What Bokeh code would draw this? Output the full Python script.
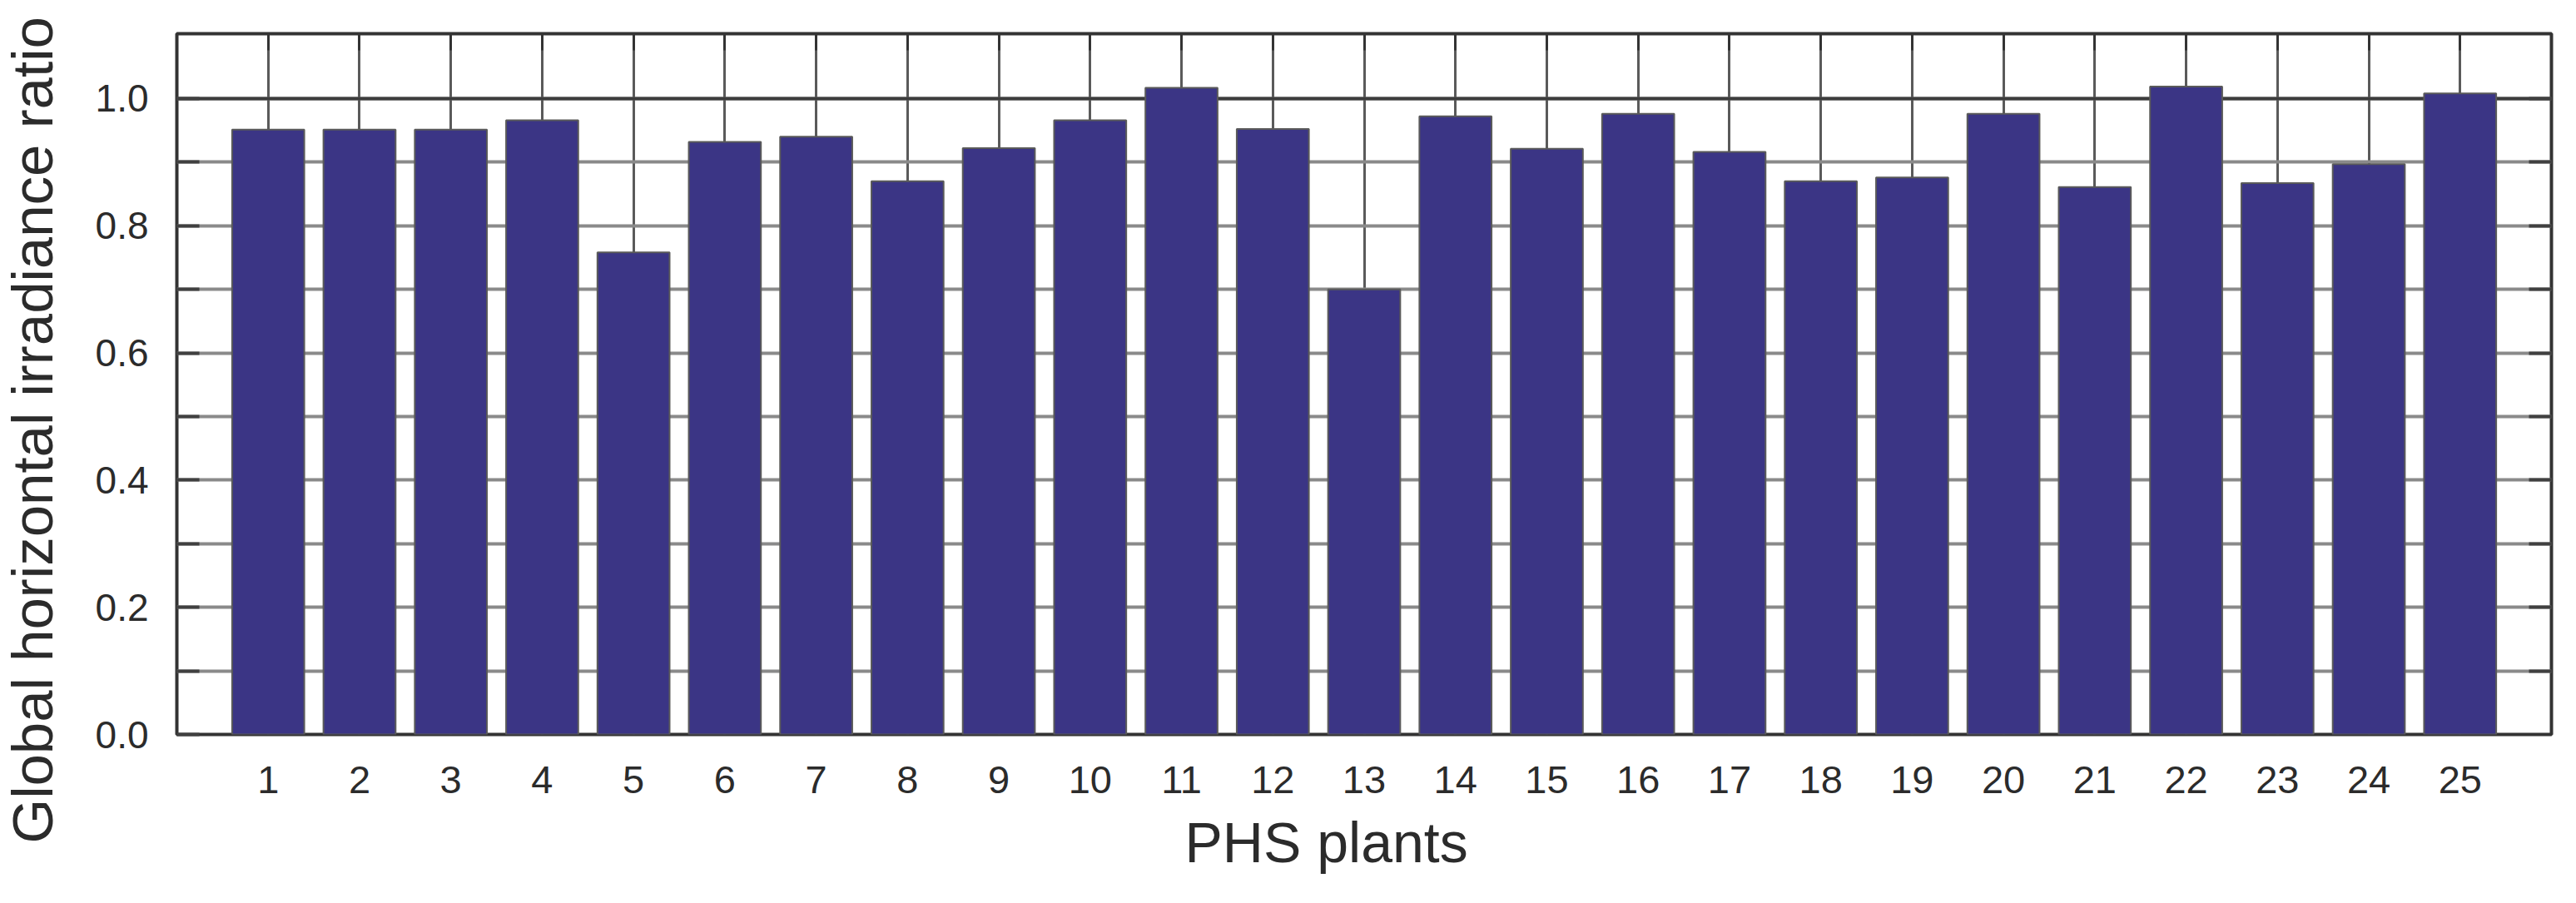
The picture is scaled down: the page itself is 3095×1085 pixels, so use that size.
from bokeh.plotting import figure
from bokeh.models import Range1d, FixedTicker, LinearAxis, Title, Span, NumeralTickFormatter, CustomJSTickFormatter
from bokeh.embed import file_html
from bokeh.resources import INLINE

# Data
plants = list(range(1, 26))
plant_labels = [str(i) for i in plants]
ghi_ratio = [0.951, 0.951, 0.951, 0.966, 0.758, 0.932, 0.940, 0.870, 0.922, 0.966,
             1.017, 0.952, 0.700, 0.972, 0.921, 0.976, 0.916, 0.870, 0.876, 0.976,
             0.861, 1.019, 0.867, 0.897, 1.008]
y_major = [0.0, 0.2, 0.4, 0.6, 0.8, 1.0]
y_minor = [0.1, 0.3, 0.5, 0.7, 0.9]
y_grid = [0.1, 0.2, 0.3, 0.4, 0.5, 0.6, 0.7, 0.8, 0.9, 1.0]
x_title = "PHS plants"
y_title = "Global horizontal irradiance ratio"

FONT = "Liberation Sans"
TXT = "#2b2b2b"
SHIFT = 36  # canvas is pulled left so the vertical title can sit close to the page edge

p = figure(width=3079 + SHIFT, height=1069, x_range=Range1d(0, 26), y_range=Range1d(0, 1.102),
           output_backend="svg", toolbar_location=None,
           min_border_left=209 + SHIFT, min_border_right=14, min_border_top=40, min_border_bottom=187)
p.margin = (0, 0, 0, -SHIFT)
p.outline_line_color = "#333333"
p.outline_line_width = 4
p.background_fill_color = "white"

# grids
p.xgrid.ticker = FixedTicker(ticks=plants)
p.xgrid.grid_line_color = "#5a5a5a"
p.xgrid.grid_line_width = 3
p.ygrid.ticker = FixedTicker(ticks=y_grid)
p.ygrid.grid_line_color = "#8a8a8a"
p.ygrid.grid_line_width = 4

ref = Span(location=1.0, dimension="width", line_color="#3c3c3c", line_width=4, level="underlay")
p.add_layout(ref)

p.vbar(x=plants, top=ghi_ratio, width=0.79, fill_color="#3B3585", line_color="#5a5a5a", line_width=2)

# left axis
ya = p.yaxis[0]
ya.ticker = FixedTicker(ticks=y_major, minor_ticks=y_minor)
ya.formatter = NumeralTickFormatter(format="0.0")
ya.axis_line_color = None
ya.major_tick_in = 27
ya.major_tick_out = 0
ya.minor_tick_in = 27
ya.minor_tick_out = 0
ya.major_tick_line_color = "#404040"
ya.minor_tick_line_color = "#404040"
ya.major_tick_line_width = 4
ya.minor_tick_line_width = 4
ya.major_label_standoff = 34
ya.major_label_text_font = FONT
ya.major_label_text_font_size = "46px"
ya.major_label_text_color = TXT

# bottom axis
xa = p.xaxis[0]
xa.ticker = FixedTicker(ticks=plants)
xa.major_label_overrides = {i: s for i, s in zip(plants, plant_labels)}
xa.axis_line_color = None
xa.major_tick_in = 0
xa.major_tick_out = 0
xa.minor_tick_line_color = None
xa.major_label_standoff = 38
xa.major_label_text_font = FONT
xa.major_label_text_font_size = "47px"
xa.major_label_text_color = TXT

blank = CustomJSTickFormatter(code="return ''")

top_ax = LinearAxis(ticker=FixedTicker(ticks=plants), formatter=blank,
                    axis_line_color=None, major_tick_in=20, major_tick_out=0,
                    major_tick_line_color="#333333", major_tick_line_width=3,
                    minor_tick_line_color=None, major_label_standoff=0,
                    major_label_text_font_size="1px")
p.add_layout(top_ax, "above")

right_ax = LinearAxis(ticker=FixedTicker(ticks=y_grid), formatter=blank,
                      axis_line_color=None, major_tick_in=27, major_tick_out=0,
                      major_tick_line_color="#404040", major_tick_line_width=4,
                      minor_tick_line_color=None, major_label_standoff=0,
                      major_label_text_font_size="1px")
p.add_layout(right_ax, "right")

ytitle = Title(text=y_title, align="left", offset=-131,
               text_font=FONT, text_font_size="69px", text_font_style="normal",
               text_color=TXT, standoff=68)
p.add_layout(ytitle, "left")

xtitle = Title(text=x_title, align="left", offset=1211,
               text_font=FONT, text_font_size="68px", text_font_style="normal",
               text_color=TXT, standoff=32)
p.add_layout(xtitle, "below")

open("out.html", "w").write(file_html(p, INLINE))
